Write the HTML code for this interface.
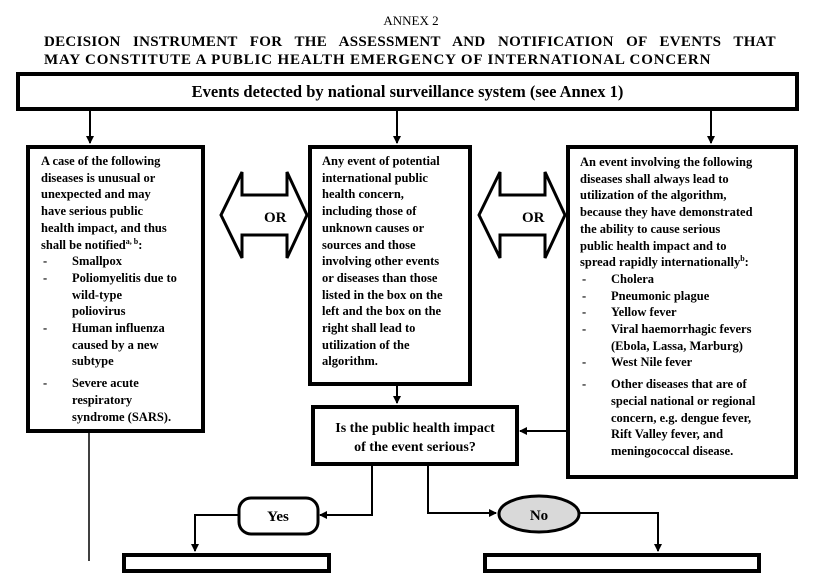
<!DOCTYPE html>
<html><head><meta charset="utf-8"><style>
body{margin:0;width:822px;height:561px;background:#fff;position:relative;overflow:hidden;font-family:"Liberation Serif",serif;color:#000}
.a{position:absolute}
.box{position:absolute;border:3px solid #000;box-sizing:border-box;background:#fff}
.t{position:absolute;font-weight:bold;font-size:12.5px;line-height:16.7px;white-space:nowrap}
.li{position:relative;padding-left:31px}
.li:before{content:"-";position:absolute;left:2px}
.gap{margin-top:5px}
sup{font-size:8px;line-height:0}
</style></head><body>
<div class="a" style="left:0;width:822px;top:13px;text-align:center;font-size:13px">ANNEX 2</div>
<div class="a" style="left:44px;width:732px;top:33px;font-weight:bold;font-size:15px;line-height:18px;text-align:justify;text-align-last:justify;letter-spacing:0.3px">DECISION INSTRUMENT FOR THE ASSESSMENT AND NOTIFICATION OF EVENTS THAT</div>
<div class="a" style="left:44px;top:51px;font-weight:bold;font-size:15px;line-height:18px;letter-spacing:0.85px;white-space:nowrap">MAY CONSTITUTE A PUBLIC HEALTH EMERGENCY OF INTERNATIONAL CONCERN</div>
<div class="box" style="left:16px;top:72px;width:783px;height:39px;border-width:4px;text-align:center;font-weight:bold;font-size:16.5px;line-height:31px">Events detected by national surveillance system (see Annex 1)</div>

<svg class="a" style="left:0;top:0" width="822" height="561">
<defs><marker id="m" markerWidth="8" markerHeight="8" refX="7" refY="4" orient="auto" markerUnits="userSpaceOnUse"><path d="M0,0 L8,4 L0,8 z"/></marker></defs>
<g stroke="#000" stroke-width="2" fill="none">
<line x1="90" y1="111" x2="90" y2="143" marker-end="url(#m)"/>
<line x1="397" y1="111" x2="397" y2="143" marker-end="url(#m)"/>
<line x1="711" y1="111" x2="711" y2="143" marker-end="url(#m)"/>
<line x1="397" y1="385" x2="397" y2="403" marker-end="url(#m)"/>
<line x1="567" y1="431" x2="520" y2="431" marker-end="url(#m)"/>
<line x1="89" y1="432" x2="89" y2="561" stroke-width="1.5"/>
<polyline points="372,466 372,515 320,515" marker-end="url(#m)"/>
<polyline points="238,515 195,515 195,551" marker-end="url(#m)"/>
<polyline points="428,466 428,513 496,513" marker-end="url(#m)"/>
<polyline points="580,513 658,513 658,551" marker-end="url(#m)"/>
</g>
<g stroke="#000" stroke-width="3" fill="#fff">
<path d="M221,215 L242,172 L242,195 L287,195 L287,172 L307,215 L287,258 L287,235 L242,235 L242,258 Z"/>
<path d="M479,215 L500,172 L500,195 L545,195 L545,172 L565,215 L545,258 L545,235 L500,235 L500,258 Z"/>
<rect x="239" y="498" width="79" height="36" rx="12"/>
<ellipse cx="539" cy="514" rx="40" ry="18" fill="#d9d9d9"/>
</g>
<text x="264" y="222" font-family="Liberation Serif" font-weight="bold" font-size="15">OR</text>
<text x="522" y="222" font-family="Liberation Serif" font-weight="bold" font-size="15">OR</text>
<text x="278" y="521" text-anchor="middle" font-family="Liberation Serif" font-weight="bold" font-size="15">Yes</text>
<text x="539" y="520" text-anchor="middle" font-family="Liberation Serif" font-weight="bold" font-size="15">No</text>
</svg>

<div class="box" style="left:26px;top:145px;width:179px;height:288px;border-width:4px"></div>
<div class="t" style="left:41px;top:153px">A case of the following<br>diseases is unusual or<br>unexpected and may<br>have serious public<br>health impact, and thus<br>shall be notified<sup>a, b</sup>:
<div class="li">Smallpox</div><div class="li">Poliomyelitis due to<br>wild-type<br>poliovirus</div><div class="li">Human influenza<br>caused by a new<br>subtype</div><div class="li gap">Severe acute<br>respiratory<br>syndrome (SARS).</div></div>

<div class="box" style="left:308px;top:145px;width:164px;height:241px;border-width:4px"></div>
<div class="t" style="left:322px;top:153px">Any event of potential<br>international public<br>health concern,<br>including those of<br>unknown causes or<br>sources and those<br>involving other events<br>or diseases than those<br>listed in the box on the<br>left and the box on the<br>right shall lead to<br>utilization of the<br>algorithm.</div>

<div class="box" style="left:566px;top:145px;width:232px;height:334px;border-width:4px"></div>
<div class="t" style="left:580px;top:154px">An event involving the following<br>diseases shall always lead to<br>utilization of the algorithm,<br>because they have demonstrated<br>the ability to cause serious<br>public health impact and to<br>spread rapidly internationally<sup>b</sup>:
<div class="li">Cholera</div><div class="li">Pneumonic plague</div><div class="li">Yellow fever</div><div class="li">Viral haemorrhagic fevers<br>(Ebola, Lassa, Marburg)</div><div class="li">West Nile fever</div><div class="li gap">Other diseases that are of<br>special national or regional<br>concern, e.g. dengue fever,<br>Rift Valley fever, and<br>meningococcal disease.</div></div>

<div class="box" style="left:311px;top:405px;width:208px;height:61px;border-width:4px;text-align:center;font-weight:bold;font-size:14px;line-height:19px;padding-top:10px">Is the public health impact<br>of the event serious?</div>

<div class="box" style="left:122px;top:553px;width:209px;height:20px;border-width:4px"></div>
<div class="box" style="left:483px;top:553px;width:278px;height:20px;border-width:4px"></div>
</body></html>
